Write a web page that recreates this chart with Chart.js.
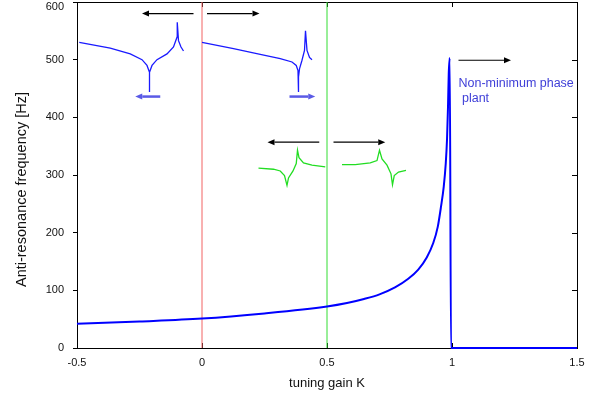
<!DOCTYPE html>
<html>
<head>
<meta charset="utf-8">
<script src="https://cdn.jsdelivr.net/npm/chart.js@4.4.0/dist/chart.umd.min.js"></script>
<style>
  body { margin: 0; background: #fff; }
  #wrap { width: 604px; height: 396px; }
</style>
</head>
<body>
<div id="wrap"><canvas id="myChart"></canvas></div>
<script>
// anti-resonance frequency vs tuning gain K
const gainK = [-0.5, -0.25, 0, 0.25, 0.5, 0.58, 0.648, 0.71, 0.772, 0.825, 0.865, 0.899, 0.925, 0.943, 0.956, 0.967, 0.975, 0.980, 0.984, 0.987, 0.991, 0.996, 1.5];
const freqHz = [42, 46, 51, 60, 72, 78, 85, 93, 105, 120, 136, 157, 182, 210, 245, 280, 320, 361, 418, 476, 503, 0, 0];

const xTickLabels = ["-0.5", "0", "0.5", "1", "1.5"];
const yTickLabels = ["0", "100", "200", "300", "400", "500", "600"];

const redMarkerK = 0;
const greenMarkerK = 0.5;

// small inset sketches of the response shape
const sketch1K = [-0.491, -0.367, -0.287, -0.240, -0.220, -0.210, -0.210, -0.210, -0.200, -0.180, -0.140, -0.114, -0.100, -0.099, -0.094, -0.084, -0.074];
const sketch1F = [530, 520, 510, 500, 490, 478, 444, 478, 490, 500, 510, 522, 539, 565, 533, 522, 515];
const sketch2K = [0, 0.126, 0.233, 0.313, 0.360, 0.377, 0.384, 0.386, 0.386, 0.386, 0.390, 0.400, 0.410, 0.414, 0.420, 0.430, 0.440];
const sketch2F = [530, 519, 509, 502, 496, 490, 481, 470, 444, 470, 484, 499, 516, 550, 516, 504, 500];
const sketch3K = [0.226, 0.286, 0.313, 0.330, 0.340, 0.346, 0.364, 0.377, 0.382, 0.388, 0.406, 0.440, 0.493];
const sketch3F = [312, 310, 307, 299, 282, 295, 307, 320, 343, 330, 321, 317, 314];
const sketch4K = [0.560, 0.613, 0.673, 0.700, 0.710, 0.720, 0.740, 0.756, 0.762, 0.769, 0.786, 0.816];
const sketch4F = [318, 318, 321, 325, 343, 328, 317, 302, 283, 299, 305, 308];

// arrows: [fromK, fromF, toK, toF]
const blackArrows = [
  [-0.034, 580, -0.240, 580],
  [0.020, 580, 0.230, 580],
  [0.469, 357, 0.262, 357],
  [0.526, 357, 0.733, 357],
  [1.026, 499, 1.236, 499]
];
const blueArrows = [
  [-0.167, 436, -0.267, 436],
  [0.350, 436, 0.453, 436]
];

const noteLines = ["Non-minimum phase", " plant"];
const noteK = 1.026;
const noteF = [459, 433];

const FONT = "'Liberation Sans', Arial, sans-serif";

function pts(xs, ys) {
  return xs.map((k, i) => ({ x: k, y: ys[i] }));
}

function drawArrow(ctx, x0, y0, x1, y1, color, width, head, half) {
  const dir = Math.sign(x1 - x0);
  ctx.strokeStyle = color;
  ctx.fillStyle = color;
  ctx.lineWidth = width;
  ctx.beginPath();
  ctx.moveTo(x0, y0);
  ctx.lineTo(x1 - dir * head, y1);
  ctx.stroke();
  ctx.beginPath();
  ctx.moveTo(x1, y1);
  ctx.lineTo(x1 - dir * head, y1 - half);
  ctx.lineTo(x1 - dir * head, y1 + half);
  ctx.closePath();
  ctx.fill();
}

const frameAndNotes = {
  id: "frameAndNotes",
  beforeDatasetsDraw(chart) {
    const { ctx, chartArea: a, scales: { x, y } } = chart;
    ctx.save();
    ctx.strokeStyle = "#000";
    ctx.lineWidth = 1;
    ctx.beginPath();
    ctx.moveTo(a.left, a.top + 0.5);
    ctx.lineTo(a.right + 0.5, a.top + 0.5);
    ctx.lineTo(a.right + 0.5, a.bottom);
    x.ticks.forEach((t) => {
      const px = Math.round(x.getPixelForValue(t.value)) + 0.5;
      ctx.moveTo(px, a.top);
      ctx.lineTo(px, a.top + 5);
      ctx.moveTo(px, a.bottom);
      ctx.lineTo(px, a.bottom - 5);
    });
    y.ticks.forEach((t) => {
      const py = Math.round(y.getPixelForValue(t.value)) + 0.5;
      ctx.moveTo(a.right, py);
      ctx.lineTo(a.right - 5, py);
    });
    ctx.stroke();

    // y tick labels, the top one kept inside the canvas
    ctx.fillStyle = "#111";
    ctx.font = "11px " + FONT;
    ctx.textAlign = "right";
    ctx.textBaseline = "middle";
    y.ticks.forEach((t, i) => {
      const py = Math.max(y.getPixelForValue(t.value), a.top + 5);
      ctx.fillText(yTickLabels[i], a.left - 13, py);
    });
    ctx.restore();
  },
  afterDatasetsDraw(chart) {
    const { ctx, scales: { x, y } } = chart;
    ctx.save();
    blackArrows.forEach((r) => {
      drawArrow(ctx, x.getPixelForValue(r[0]), y.getPixelForValue(r[1]),
        x.getPixelForValue(r[2]), y.getPixelForValue(r[3]), "#000", 1.2, 7, 3);
    });
    blueArrows.forEach((r) => {
      drawArrow(ctx, x.getPixelForValue(r[0]), y.getPixelForValue(r[1]),
        x.getPixelForValue(r[2]), y.getPixelForValue(r[3]), "#5a5ae6", 2.5, 7, 3);
    });
    ctx.fillStyle = "#4040d8";
    ctx.font = "12.5px " + FONT;
    ctx.textBaseline = "middle";
    ctx.textAlign = "left";
    noteLines.forEach((s, i) => {
      ctx.fillText(s, x.getPixelForValue(noteK), y.getPixelForValue(noteF[i]));
    });
    // y axis title
    ctx.fillStyle = "#111";
    ctx.font = "14.5px " + FONT;
    ctx.textAlign = "center";
    ctx.translate(22, 189.5);
    ctx.rotate(-Math.PI / 2);
    ctx.fillText("Anti-resonance frequency [Hz]", 0, 0);
    ctx.restore();
  }
};

const sketchStyle = { pointRadius: 0, borderWidth: 1.3, tension: 0, order: 1, clip: false };

new Chart(document.getElementById("myChart"), {
  type: "line",
  data: {
    datasets: [
      {
        data: pts(gainK, freqHz),
        borderColor: "#0000ff",
        borderWidth: 2,
        pointRadius: 0,
        cubicInterpolationMode: "monotone",
        clip: false,
        order: 0
      },
      { data: pts([redMarkerK, redMarkerK], [0, 600]), borderColor: "#f26262", borderWidth: 1, pointRadius: 0, order: 3 },
      { data: pts([greenMarkerK, greenMarkerK], [0, 600]), borderColor: "#33dd33", borderWidth: 1, pointRadius: 0, order: 3 },
      Object.assign({ data: pts(sketch1K, sketch1F), borderColor: "#1a1aff" }, sketchStyle),
      Object.assign({ data: pts(sketch2K, sketch2F), borderColor: "#1a1aff" }, sketchStyle),
      Object.assign({ data: pts(sketch3K, sketch3F), borderColor: "#22dd22" }, sketchStyle),
      Object.assign({ data: pts(sketch4K, sketch4F), borderColor: "#22dd22" }, sketchStyle)
    ]
  },
  options: {
    responsive: true,
    maintainAspectRatio: false,
    animation: false,
    events: [],
    layout: { padding: { left: 0, right: 27, top: 2, bottom: 0 } },
    plugins: { legend: { display: false }, tooltip: { enabled: false } },
    scales: {
      x: {
        type: "linear",
        min: -0.5,
        max: 1.5,
        afterFit(scale) {
          scale.height = 48;
          scale.paddingLeft = 0;
          scale.paddingRight = 0;
        },
        ticks: {
          stepSize: 0.5,
          maxRotation: 0,
          padding: 8,
          color: "#111",
          font: { family: FONT, size: 11 },
          callback: (v, i) => xTickLabels[i]
        },
        grid: { drawOnChartArea: false, drawTicks: false },
        border: { display: true, color: "#000", width: 1 },
        title: {
          display: true,
          text: "tuning gain K",
          color: "#111",
          font: { family: FONT, size: 13 },
          padding: { top: 0, bottom: 5 }
        }
      },
      y: {
        min: 0,
        max: 600,
        afterFit(scale) {
          scale.width = 77;
          scale.paddingTop = 0;
          scale.paddingBottom = 0;
        },
        ticks: {
          stepSize: 100,
          display: false
        },
        grid: { drawOnChartArea: false, drawTicks: true, tickLength: 4, color: "#000" },
        border: { display: true, color: "#000", width: 1 }
      }
    }
  },
  plugins: [frameAndNotes]
});
</script>
</body>
</html>
